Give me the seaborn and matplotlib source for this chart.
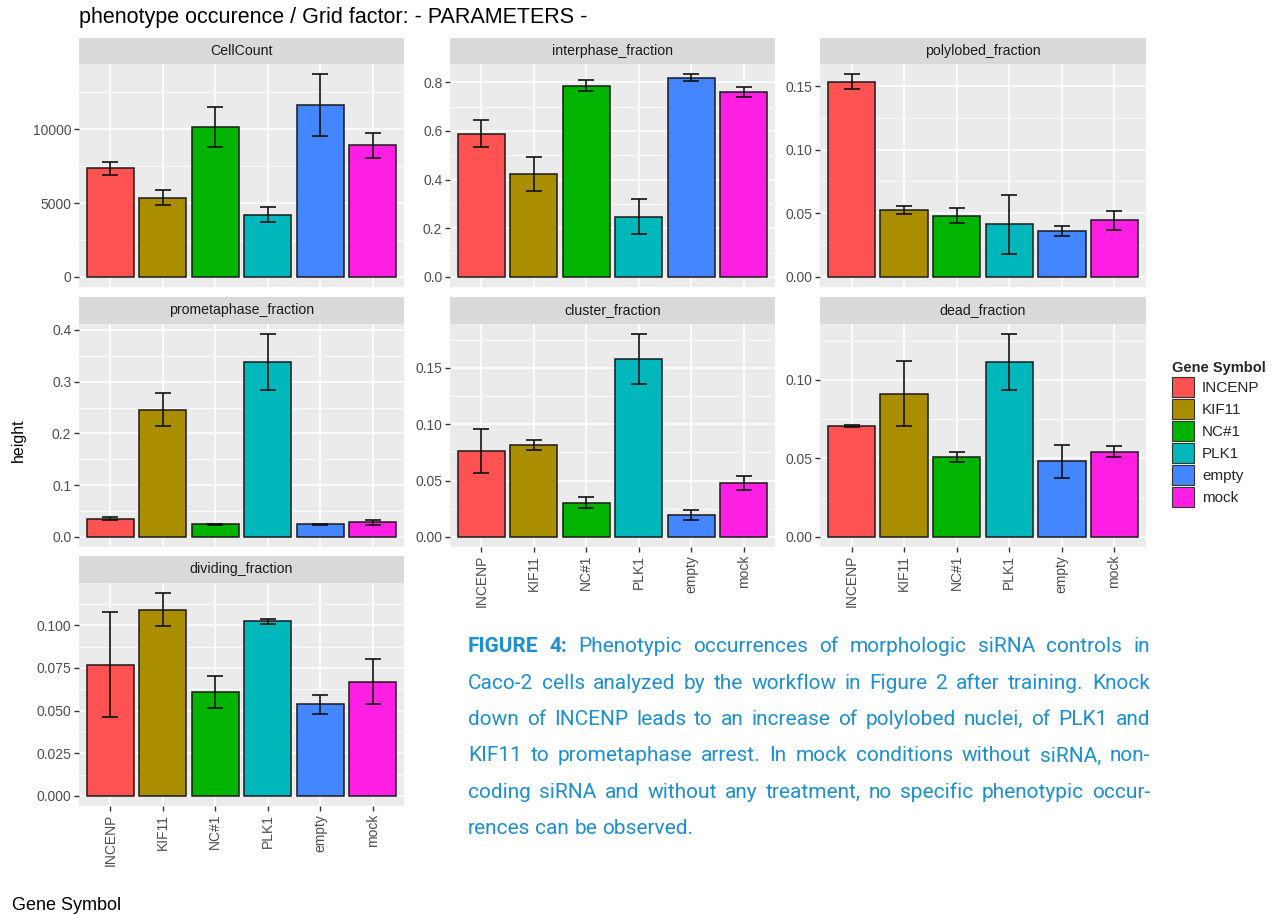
import numpy as np
import pandas as pd
import seaborn as sns
import matplotlib.pyplot as plt
from matplotlib.patches import Patch
from matplotlib.ticker import FixedLocator

# --- data ---
genes = ["INCENP", "KIF11", "NC#1", "PLK1", "empty", "mock"]
gene_colors = ["#FF5252", "#AB8E00", "#00B400", "#00B7BB", "#4386FF", "#FF1FE3"]

cellcount_mean = [7350, 5350, 10150, 4220, 11650, 8900]
cellcount_err = [420, 500, 1350, 500, 2080, 820]
interphase_mean = [0.589, 0.421, 0.786, 0.248, 0.818, 0.759]
interphase_err = [0.054, 0.070, 0.021, 0.073, 0.015, 0.022]
polylobed_mean = [0.1534, 0.0527, 0.0482, 0.0414, 0.0359, 0.0445]
polylobed_err = [0.0060, 0.0031, 0.0056, 0.0231, 0.0037, 0.0073]
prometaphase_mean = [0.0347, 0.2456, 0.0244, 0.3388, 0.0244, 0.0283]
prometaphase_err = [0.003, 0.032, 0.001, 0.054, 0.001, 0.005]
cluster_mean = [0.0766, 0.0817, 0.0304, 0.1580, 0.0195, 0.0479]
cluster_err = [0.0195, 0.0042, 0.0049, 0.0224, 0.0043, 0.0062]
dead_mean = [0.0708, 0.0913, 0.0508, 0.1115, 0.0483, 0.0543]
dead_err = [0.0007, 0.0208, 0.0030, 0.0180, 0.0105, 0.0037]
dividing_mean = [0.0770, 0.1092, 0.0609, 0.1024, 0.0537, 0.0670]
dividing_err = [0.0306, 0.0097, 0.0092, 0.0015, 0.0056, 0.0131]

panel_names = ["CellCount", "interphase_fraction", "polylobed_fraction",
               "prometaphase_fraction", "cluster_fraction", "dead_fraction",
               "dividing_fraction"]
panel_means = [cellcount_mean, interphase_mean, polylobed_mean, prometaphase_mean,
               cluster_mean, dead_mean, dividing_mean]
panel_errs = [cellcount_err, interphase_err, polylobed_err, prometaphase_err,
              cluster_err, dead_err, dividing_err]
panel_ticks = [[0, 5000, 10000],
               [0.0, 0.2, 0.4, 0.6, 0.8],
               [0.00, 0.05, 0.10, 0.15],
               [0.0, 0.1, 0.2, 0.3, 0.4],
               [0.00, 0.05, 0.10, 0.15],
               [0.00, 0.05, 0.10],
               [0.000, 0.025, 0.050, 0.075, 0.100]]
panel_fmt = ["{:.0f}", "{:.1f}", "{:.2f}", "{:.1f}", "{:.2f}", "{:.2f}", "{:.3f}"]

caption_lines = [
    "FIGURE 4: Phenotypic occurrences of morphologic siRNA controls in",
    "Caco-2 cells analyzed by the workflow in Figure 2 after training. Knock",
    "down of INCENP leads to an increase of polylobed nuclei, of PLK1 and",
    "KIF11 to prometaphase arrest.  In mock conditions without siRNA, non-",
    "coding siRNA and without any treatment, no specific phenotypic occur-",
    "rences can be observed.",
]

W, H = 1273, 914
sns.set_theme(style="darkgrid")
plt.rcParams["font.family"] = ["Liberation Sans", "DejaVu Sans"]

fig = plt.figure(figsize=(W / 100, H / 100), dpi=100)
fig.patch.set_facecolor("white")

def px_axes(x0, y0, x1, y1):
    return fig.add_axes([x0 / W, 1 - y1 / H, (x1 - x0) / W, (y1 - y0) / H])

col_x = [(79, 404), (450, 775), (820, 1146)]
row_y = [(38, 64, 287), (297, 323.5, 547), (556, 583, 806)]
palette = dict(zip(genes, gene_colors))
show_x = {4, 5, 6}

for i, name in enumerate(panel_names):
    r, c = divmod(i, 3)
    x0, x1 = col_x[c]
    st, y0, y1 = row_y[r]
    # strip
    sax = px_axes(x0, st, x1, y0)
    sax.set_facecolor("#D9D9D9")
    sax.set_xticks([]); sax.set_yticks([])
    sax.grid(False)
    for s in sax.spines.values():
        s.set_visible(False)
    sax.text(0.5, 0.5, name, ha="center", va="center", fontsize=10.2, color="#1A1A1A",
             transform=sax.transAxes)

    ax = px_axes(x0, y0, x1, y1)
    df = pd.DataFrame({"gene": genes, "height": panel_means[i]})
    sns.barplot(data=df, x="gene", y="height", hue="gene", palette=palette,
                order=genes, hue_order=genes, width=0.9, edgecolor="#1A1A1A",
                linewidth=1.1, legend=False, errorbar=None, saturation=1, ax=ax)
    ax.errorbar(np.arange(len(genes)), panel_means[i], yerr=panel_errs[i], fmt="none",
                ecolor="#111111", elinewidth=1.2, capsize=6, capthick=1.2, zorder=5)

    m = np.array(panel_means[i]); e = np.array(panel_errs[i])
    hi = (m + e).max(); lo = min(0, (m - e).min())
    pad = 0.05 * (hi - lo)
    ax.set_ylim(lo - pad, hi + pad)
    ax.set_xlim(-0.6, len(genes) - 0.4)

    ticks = panel_ticks[i]
    ax.yaxis.set_major_locator(FixedLocator(ticks))
    step = ticks[1] - ticks[0]
    minors = [t + step / 2 for t in ticks] + [ticks[0] - step / 2]
    ax.yaxis.set_minor_locator(FixedLocator(minors))
    ax.set_yticklabels([panel_fmt[i].format(t) for t in ticks])
    ax.set_facecolor("#EBEBEB")
    ax.set_axisbelow(True)
    ax.grid(which="major", color="white", linewidth=1.2)
    ax.grid(which="minor", axis="y", color="white", linewidth=0.6)
    for s in ax.spines.values():
        s.set_visible(False)
    ax.tick_params(axis="both", which="major", length=3.5, width=1, color="#333333",
                   labelsize=10, labelcolor="#4D4D4D", pad=2, bottom=True, left=True)
    ax.tick_params(axis="y", which="minor", length=0)
    ax.set_xlabel(""); ax.set_ylabel("")
    if i in show_x:
        ax.set_xticks(range(len(genes)))
        ax.set_xticklabels(genes, rotation=90)
    else:
        ax.tick_params(axis="x", labelbottom=False, length=0)

# overall labels
fig.text(79 / W, 1 - 18 / H, "phenotype occurence / Grid factor: - PARAMETERS -",
         ha="left", va="center", fontsize=15.5, color="black")
fig.text(18 / W, 1 - 440 / H, "height", rotation=90, ha="center", va="center",
         fontsize=11.5, color="black")
fig.text(12 / W, 1 - 905 / H, "Gene Symbol", ha="left", va="center",
         fontsize=13, color="black")

handles = [Patch(facecolor=col, edgecolor="#333333", linewidth=0.8) for col in gene_colors]
leg = fig.legend(handles, genes, loc="upper left", bbox_to_anchor=(1166 / W, 1 - 355 / H),
                 frameon=False, title="Gene Symbol", fontsize=11, title_fontsize=10.5,
                 handlelength=1.4, handleheight=1.65, labelspacing=0.12,
                 handletextpad=0.55, alignment="left", borderaxespad=0)
leg.get_title().set_fontweight("bold")

# justified caption
cap_color = "#1C8FD2"
cap_font = ["Roboto", "DejaVu Sans"]
left, right = 468, 1150
renderer = fig.canvas.get_renderer()

def word_width(wd, size, bold=False):
    t = fig.text(0, 0, wd, fontsize=size, family=cap_font,
                 fontweight="bold" if bold else "normal")
    w = t.get_window_extent(renderer).width
    t.remove()
    return w

# largest size where every line fits with a reasonable word gap
cap_size = 15.0
while cap_size > 10:
    em = cap_size * 100 / 72
    fits = True
    for li, line in enumerate(caption_lines[:-1]):
        words = line.split()
        tot = sum(word_width(wd, cap_size, li == 0 and k < 2) for k, wd in enumerate(words))
        if tot + (len(words) - 1) * 0.22 * em > right - left:
            fits = False
            break
    if fits:
        break
    cap_size -= 0.25

for li, line in enumerate(caption_lines):
    yc = 647 + li * 36.3
    words = line.split()
    arts = []
    for wi, wd in enumerate(words):
        bold = li == 0 and wi < 2
        t = fig.text(0, 1 - yc / H, wd, ha="left", va="center", fontsize=cap_size,
                     color=cap_color, family=cap_font,
                     fontweight="bold" if bold else "normal")
        arts.append(t)
    widths = [a.get_window_extent(renderer).width for a in arts]
    if li < len(caption_lines) - 1:
        gap = (right - left - sum(widths)) / (len(words) - 1)
    else:
        gap = word_width("a a", cap_size) - word_width("aa", cap_size)
    x = left
    for a, w in zip(arts, widths):
        a.set_x(x / W)
        x += w + gap

fig.savefig("out.png", dpi=100)
